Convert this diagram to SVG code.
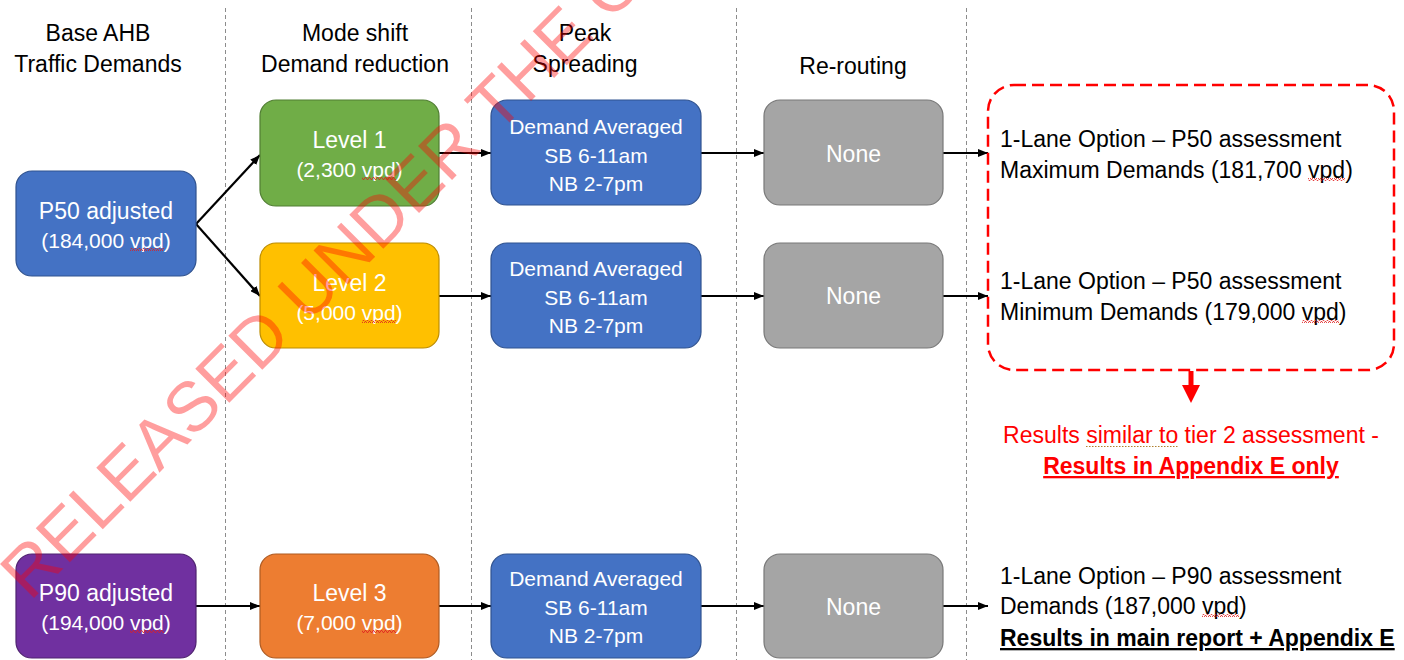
<svg xmlns="http://www.w3.org/2000/svg" width="1404" height="660" viewBox="0 0 1404 660">
<style>
.hdr{font-family:"Liberation Sans",Arial,sans-serif;font-size:23px;fill:#000;text-anchor:middle}
.t1{font-family:"Liberation Sans",Arial,sans-serif;font-size:23px;fill:#fff;text-anchor:middle}
.t2{font-family:"Liberation Sans",Arial,sans-serif;font-size:21px;fill:#fff;text-anchor:middle}
.t3{font-family:"Liberation Sans",Arial,sans-serif;font-size:21px;fill:#fff;text-anchor:middle}
.rt{font-family:"Liberation Sans",Arial,sans-serif;font-size:23px;fill:#000}
.red{font-family:"Liberation Sans",Arial,sans-serif;font-size:23px;fill:#ff0000;text-anchor:middle}
.b{font-weight:bold;text-decoration:underline}
.sep{stroke:#8c8c8c;stroke-width:1;stroke-dasharray:4 3;fill:none}
.con{stroke:#000;stroke-width:2.2;fill:none;marker-end:url(#ah)}
.wv{fill:url(#wave)}
.blue{fill:#4472C4;stroke:#2F528F;stroke-width:1.2}
.green{fill:#70AD47;stroke:#507E32;stroke-width:1.2}
.yellow{fill:#FFC000;stroke:#BC8C00;stroke-width:1.2}
.orange{fill:#ED7D31;stroke:#AE5A21;stroke-width:1.2}
.purple{fill:#7030A0;stroke:#4F2270;stroke-width:1.2}
.grey{fill:#A5A5A5;stroke:#787878;stroke-width:1.2}
</style>
<defs>
<marker id="ah" markerWidth="10" markerHeight="8" refX="10" refY="4" orient="auto" markerUnits="userSpaceOnUse">
<path d="M0,0 L10,4 L0,8 Z" fill="#000"/>
</marker>
<marker id="rah" markerWidth="22" markerHeight="18" refX="9" refY="0" orient="auto" markerUnits="userSpaceOnUse" viewBox="0 -9 18 18">
<path d="M0,-9 L18,0 L0,9 Z" fill="#ff0000"/>
</marker>
<pattern id="wave" patternUnits="userSpaceOnUse" x="0" y="0" width="4" height="3">
<path d="M0,2.5 L1,0.5 L2,0.5 L3,2.5 L4,2.5" fill="none" stroke="#e02020" stroke-width="0.8"/>
</pattern>
</defs>
<rect width="1404" height="660" fill="#fff"/>

<g id="separators">
<line class="sep" x1="225.5" y1="8" x2="225.5" y2="660"/>
<line class="sep" x1="471.5" y1="8" x2="471.5" y2="660"/>
<line class="sep" x1="736.5" y1="8" x2="736.5" y2="660"/>
<line class="sep" x1="966.5" y1="8" x2="966.5" y2="660"/>
</g>

<g id="headers">
<text class="hdr" x="98" y="41">Base AHB</text>
<text class="hdr" x="98" y="72">Traffic Demands</text>
<text class="hdr" x="355" y="41">Mode shift</text>
<text class="hdr" x="355" y="72">Demand reduction</text>
<text class="hdr" x="585" y="41">Peak</text>
<text class="hdr" x="585" y="72">Spreading</text>
<text class="hdr" x="853" y="74">Re-routing</text>
</g>

<g id="connectors">
<path class="con" d="M196,224 L260,155"/>
<path class="con" d="M196,224 L260,296"/>
<path class="con" d="M439,153 L491,153"/>
<path class="con" d="M439,296 L491,296"/>
<path class="con" d="M196,606 L260,606"/>
<path class="con" d="M439,606 L491,606"/>
<path class="con" d="M701,153 L764,153"/>
<path class="con" d="M701,296 L764,296"/>
<path class="con" d="M701,606 L764,606"/>
<path class="con" d="M943,153 L988,153"/>
<path class="con" d="M943,296 L988,296"/>
<path class="con" d="M943,606 L988,606"/>
<path d="M1191,371 L1191,394" stroke="#ff0000" stroke-width="5" fill="none" marker-end="url(#rah)"/>
</g>

<g id="p50">
<rect class="blue" x="16" y="171" width="180" height="105" rx="16"/>
<text class="t1" x="106" y="219">P50 adjusted</text>
<text class="t3" x="106" y="248">(184,000 vpd)</text>
<rect class="wv" x="130" y="248" width="34" height="3"/>
</g>
<g id="level1">
<rect class="green" x="260" y="100" width="179" height="106" rx="16"/>
<text class="t1" x="349.5" y="148">Level 1</text>
<text class="t3" x="349.5" y="177">(2,300 vpd)</text>
<rect class="wv" x="362" y="177" width="34" height="3"/>
</g>
<g id="level2">
<rect class="yellow" x="260" y="243" width="179" height="105" rx="16"/>
<text class="t1" x="349.5" y="291">Level 2</text>
<text class="t3" x="349.5" y="320">(5,000 vpd)</text>
<rect class="wv" x="362" y="320" width="34" height="3"/>
</g>
<g id="p90">
<rect class="purple" x="16" y="554" width="180" height="104" rx="16"/>
<text class="t1" x="106" y="601">P90 adjusted</text>
<text class="t3" x="106" y="630">(194,000 vpd)</text>
<rect class="wv" x="130" y="630" width="34" height="3"/>
</g>
<g id="level3">
<rect class="orange" x="260" y="554" width="179" height="104" rx="16"/>
<text class="t1" x="349.5" y="601">Level 3</text>
<text class="t3" x="349.5" y="630">(7,000 vpd)</text>
<rect class="wv" x="362" y="630" width="34" height="3"/>
</g>
<g id="peak1">
<rect class="blue" x="491" y="100" width="210" height="105" rx="16"/>
<text class="t2" x="596" y="134">Demand Averaged</text>
<text class="t2" x="596" y="163">SB 6-11am</text>
<text class="t2" x="596" y="191">NB 2-7pm</text>
</g>
<g id="peak2">
<rect class="blue" x="491" y="243" width="210" height="105" rx="16"/>
<text class="t2" x="596" y="276">Demand Averaged</text>
<text class="t2" x="596" y="305">SB 6-11am</text>
<text class="t2" x="596" y="333">NB 2-7pm</text>
</g>
<g id="peak3">
<rect class="blue" x="491" y="554" width="210" height="104" rx="16"/>
<text class="t2" x="596" y="586">Demand Averaged</text>
<text class="t2" x="596" y="615">SB 6-11am</text>
<text class="t2" x="596" y="643">NB 2-7pm</text>
</g>
<g id="none1">
<rect class="grey" x="764" y="100" width="179" height="105" rx="16"/>
<text class="t1" x="853.5" y="162">None</text>
</g>
<g id="none2">
<rect class="grey" x="764" y="243" width="179" height="105" rx="16"/>
<text class="t1" x="853.5" y="304">None</text>
</g>
<g id="none3">
<rect class="grey" x="764" y="554" width="179" height="104" rx="16"/>
<text class="t1" x="853.5" y="615">None</text>
</g>

<g id="p50-results">
<rect x="988" y="85" width="406" height="285" rx="26" fill="none" stroke="#ff0000" stroke-width="2.5" stroke-dasharray="12 6"/>
<text class="rt" x="1000" y="147">1-Lane Option – P50 assessment</text>
<text class="rt" x="1000" y="178">Maximum Demands (181,700 vpd)</text>
<rect class="wv" x="1308" y="178" width="37" height="3"/>
<text class="rt" x="1000" y="289">1-Lane Option – P50 assessment</text>
<text class="rt" x="1000" y="320">Minimum Demands (179,000 vpd)</text>
<rect class="wv" x="1302" y="320" width="37" height="3"/>
</g>

<g id="note">
<text class="red" x="1191" y="443">Results similar to tier 2 assessment -</text>
<line x1="1086" y1="446.5" x2="1178" y2="446.5" stroke="#b08030" stroke-width="1" stroke-dasharray="1.5 1.5"/>
<text class="red b" x="1191" y="474">Results in Appendix E only</text>
</g>

<g id="p90-results">
<text class="rt" x="1000" y="584">1-Lane Option – P90 assessment</text>
<text class="rt" x="1000" y="614">Demands (187,000 vpd)</text>
<rect class="wv" x="1202" y="614" width="37" height="3"/>
<text class="rt b" x="1000" y="646">Results in main report + Appendix E</text>
</g>

<g id="watermark">
<text transform="translate(30,602) rotate(-45)" font-family="Liberation Sans, Arial, sans-serif" font-size="70" fill="#ff0000" fill-opacity="0.38">RELEASED UNDER THE O</text>
</g>
</svg>
